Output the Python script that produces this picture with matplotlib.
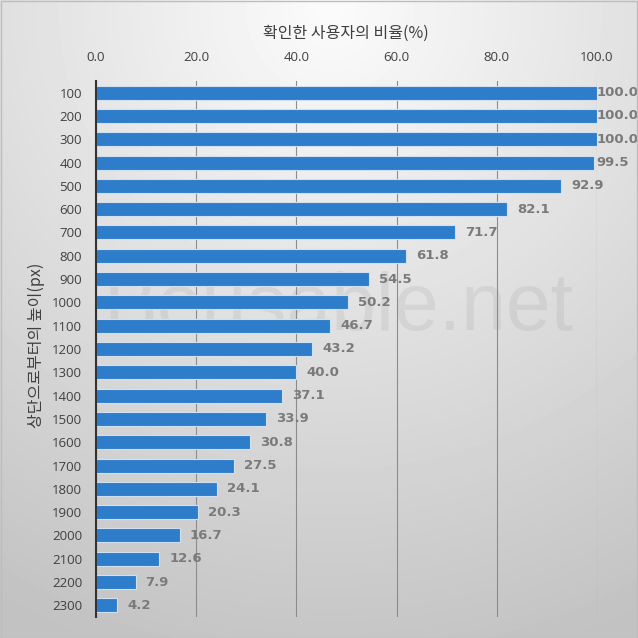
import numpy as np
import matplotlib.pyplot as plt
from matplotlib.patches import Rectangle

plt.rcParams['font.family'] = ['Noto Sans CJK KR', 'DejaVu Sans']

# data
heights = ['100', '200', '300', '400', '500', '600', '700', '800', '900', '1000',
           '1100', '1200', '1300', '1400', '1500', '1600', '1700', '1800', '1900',
           '2000', '2100', '2200', '2300']
ratios = [100.0, 100.0, 100.0, 99.5, 92.9, 82.1, 71.7, 61.8, 54.5, 50.2,
          46.7, 43.2, 40.0, 37.1, 33.9, 30.8, 27.5, 24.1, 20.3, 16.7,
          12.6, 7.9, 4.2]
x_ticks = [0, 20, 40, 60, 80, 100]

W, H = 638, 638
fig = plt.figure(figsize=(W / 100, H / 100), dpi=100)

# radial gradient background
bg = fig.add_axes([0, 0, 1, 1], zorder=-10)
yy, xx = np.mgrid[0:H, 0:W]
r = np.sqrt((xx - 330) ** 2 + (yy - 10) ** 2) / 720
shade = np.clip(0.985 - 0.24 * r, 0.76, 1.0)
bg.imshow(shade, cmap='gray', vmin=0, vmax=1, extent=[0, 1, 0, 1],
          aspect='auto', origin='upper')
bg.set_axis_off()
fig.add_artist(Rectangle((0.5 / W, 0.5 / H), 1 - 1.5 / W, 1 - 1.5 / H,
                         transform=fig.transFigure, fill=False,
                         edgecolor='#bdbdbd', linewidth=1))

# watermark, behind the plot
fig.text(338 / W, 1 - 330 / H, 'Beusable.net', ha='center', va='baseline',
         fontsize=58, color='#9a9a9a', alpha=0.18, family='Liberation Sans',
         zorder=-5)

# plot area
left, right = 96 / W, 597 / W
top, bottom = 1 - 81 / H, 1 - 617 / H
ax = fig.add_axes([left, bottom, right - left, top - bottom])
ax.patch.set_alpha(0)

y = np.arange(len(heights))
ax.barh(y, ratios, height=0.6, color='#2e7dcb', edgecolor='#cfe0f2',
        linewidth=0.8, zorder=3)
for yi, v in zip(y, ratios):
    # labels that would run off the right edge sit on the bar end
    ax.text(min(v + 2.0, 99.9), yi, f'{v:.1f}', va='center', ha='left',
            fontsize=9.5, fontweight='bold', color='#7a7a7a', zorder=4,
            family='DejaVu Sans')

ax.set_xlim(0, 100)
ax.set_ylim(len(heights) - 0.5, -0.5)
ax.set_xticks(x_ticks)
ax.set_xticklabels([f'{t:.1f}' for t in x_ticks])
ax.set_yticks(y)
ax.set_yticklabels(heights)
ax.xaxis.tick_top()
ax.tick_params(axis='both', length=0, labelsize=9.5, labelcolor='#404040')
ax.tick_params(axis='x', pad=12)
ax.tick_params(axis='y', pad=10)
for lbl in ax.get_xticklabels() + ax.get_yticklabels():
    lbl.set_family(['Open Sans', 'DejaVu Sans'])

ax.grid(axis='x', color='#8c8c8c', linewidth=0.8, zorder=0)
for s in ['top', 'right', 'bottom']:
    ax.spines[s].set_visible(False)
ax.spines['left'].set_color('#333333')
ax.spines['left'].set_linewidth(1.5)
ax.spines['left'].set_zorder(5)

fig.text(346 / W, 1 - 33 / H, '확인한 사용자의 비율(%)', ha='center', va='center',
         fontsize=11.5, color='#404040')
fig.text(36 / W, 1 - 345 / H, '상단으로부터의 높이(px)', ha='center', va='center',
         rotation=90, fontsize=11.5, color='#404040')

fig.savefig('out.png', dpi=100)
